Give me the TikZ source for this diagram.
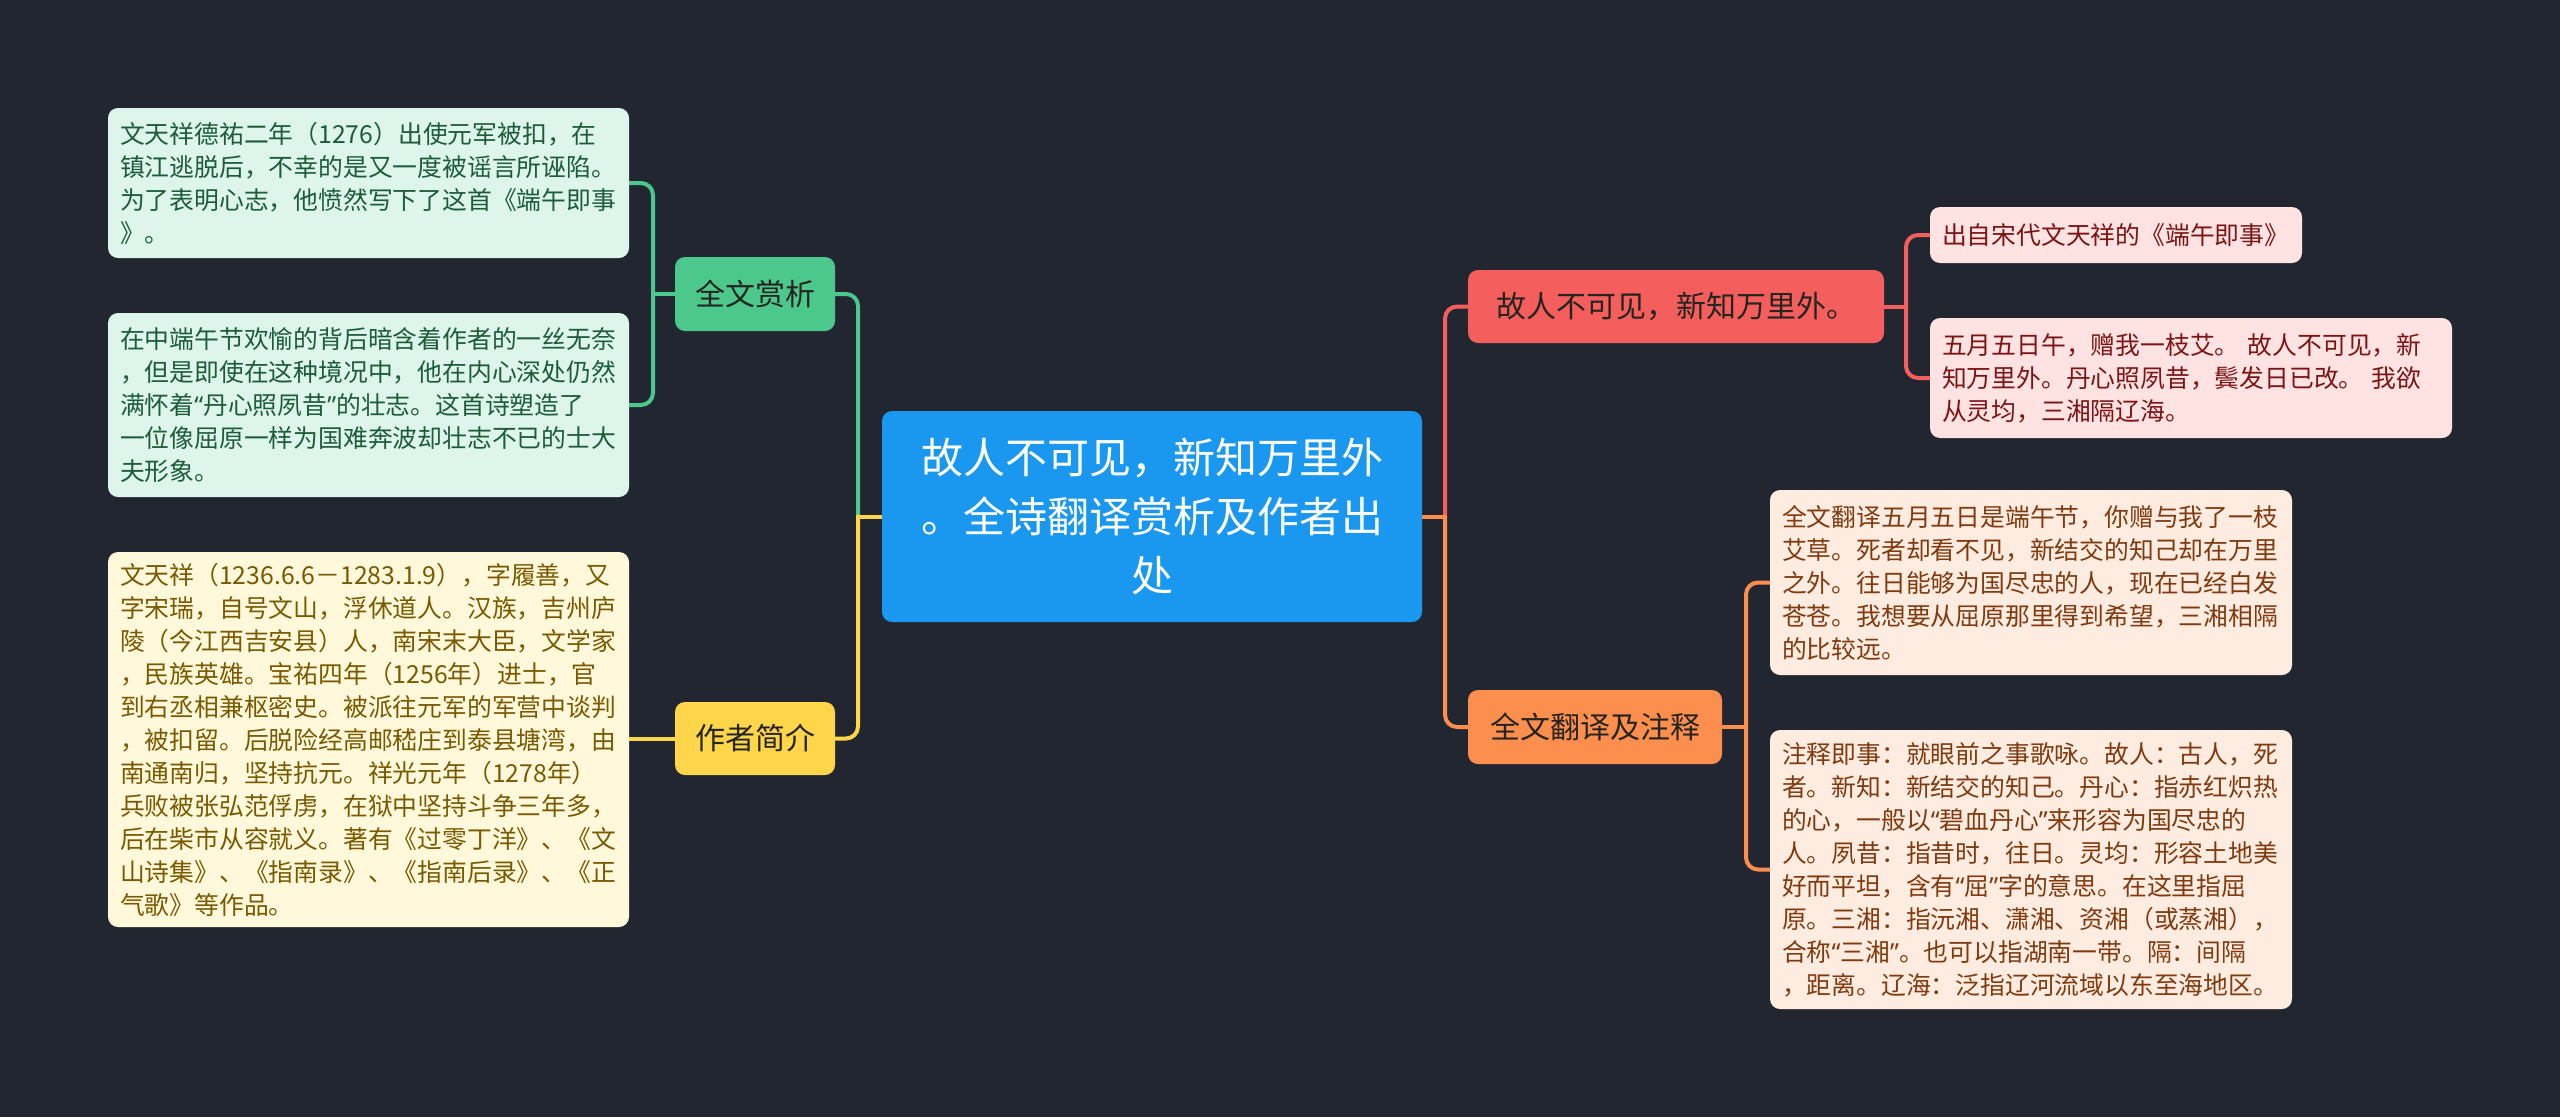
\documentclass[tikz,border=0pt]{standalone}
\usepackage{fontspec}
\setmainfont{Noto Sans CJK SC}
\newfontfamily\quotefont{Noto Sans}
\newcommand{\qo}{{\quotefont “}}
\newcommand{\qc}{{\quotefont ”}}
\usetikzlibrary{backgrounds}
\definecolor{bgc}{HTML}{222630}
\definecolor{cblue}{HTML}{1A97EE}
\definecolor{cgreen}{HTML}{4CC88C}
\definecolor{cyellow}{HTML}{FFD64A}
\definecolor{cred}{HTML}{F45F5E}
\definecolor{corange}{HTML}{FC8F4E}
\definecolor{lgreen}{HTML}{DDF5EA}
\definecolor{tgreen}{HTML}{1C5C3A}
\definecolor{lyellow}{HTML}{FFF8DA}
\definecolor{tyellow}{HTML}{7A5A00}
\definecolor{lred}{HTML}{FFE2E2}
\definecolor{tred}{HTML}{7D1414}
\definecolor{lorange}{HTML}{FFECE1}
\definecolor{torange}{HTML}{803A0E}
\definecolor{tdark}{HTML}{25241F}
\tikzset{
  box/.style={rounded corners=10pt, inner ysep=0pt, inner xsep=12pt, align=left},
  leaf/.style={box, font=\fontsize{24.8}{33}\selectfont},
  topic/.style={box, align=center, inner xsep=0pt, font=\fontsize{30}{40}\selectfont, text=tdark},
  conn/.style={line width=4pt, line cap=round, rounded corners=12pt},
}
\begin{document}
\begin{tikzpicture}[x=1pt, y=-1pt]
\useasboundingbox (0,0) rectangle (2560,1117);
% central topic
\node[box, fill=cblue, text=white, align=center, inner xsep=20pt, text width=500pt, minimum height=211pt,
  font=\fontsize{42}{59}\selectfont] (c) at (1152,516.5)
  {故人不可见，新知万里外\\。全诗翻译赏析及作者出\\处};
% main branches
\node[topic, fill=cgreen, minimum width=160pt, minimum height=74pt] (qw) at (755,294) {全文赏析};
\node[topic, fill=cyellow, minimum width=160pt, minimum height=73pt] (zz) at (755,738.5) {作者简介};
\node[topic, fill=cred, minimum width=416pt, minimum height=73pt] (gr) at (1676,306.5) {故人不可见，新知万里外。};
\node[topic, fill=corange, minimum width=254pt, minimum height=74pt] (fy) at (1595,727) {全文翻译及注释};
% leaves: green
\node[leaf, fill=lgreen, text=tgreen, text width=497pt, minimum height=150pt] (a1) at (368.5,183)
  {文天祥德祐二年（1276）出使元军被扣，在\\镇江逃脱后，不幸的是又一度被谣言所诬陷。\\为了表明心志，他愤然写下了这首《端午即事\\》。};
\node[leaf, fill=lgreen, text=tgreen, text width=497pt, minimum height=184pt] (a2) at (368.5,405)
  {在中端午节欢愉的背后暗含着作者的一丝无奈\\，但是即使在这种境况中，他在内心深处仍然\\满怀着\qo 丹心照夙昔\qc 的壮志。这首诗塑造了\\一位像屈原一样为国难奔波却壮志不已的士大\\夫形象。};
% leaf: yellow
\node[leaf, fill=lyellow, text=tyellow, text width=497pt, minimum height=375pt] (b) at (368.5,739.5)
  {文天祥（1236.6.6－1283.1.9），字履善，又\\字宋瑞，自号文山，浮休道人。汉族，吉州庐\\陵（今江西吉安县）人，南宋末大臣，文学家\\，民族英雄。宝祐四年（1256年）进士，官\\到右丞相兼枢密史。被派往元军的军营中谈判\\，被扣留。后脱险经高邮嵇庄到泰县塘湾，由\\南通南归，坚持抗元。祥光元年（1278年）\\兵败被张弘范俘虏，在狱中坚持斗争三年多，\\后在柴市从容就义。著有《过零丁洋》、《文\\山诗集》、《指南录》、《指南后录》、《正\\气歌》等作品。};
% leaves: red
\node[leaf, fill=lred, text=tred, text width=348pt, minimum height=56pt] (r1) at (2116,235)
  {出自宋代文天祥的《端午即事》};
\node[leaf, fill=lred, text=tred, text width=498pt, minimum height=120pt] (r2) at (2191,378)
  {五月五日午，赠我一枝艾。 故人不可见，新\\知万里外。丹心照夙昔，鬓发日已改。 我欲\\从灵均，三湘隔辽海。};
% leaves: orange
\node[leaf, fill=lorange, text=torange, text width=498pt, minimum height=185pt] (o1) at (2031,582.5)
  {全文翻译五月五日是端午节，你赠与我了一枝\\艾草。死者却看不见，新结交的知己却在万里\\之外。往日能够为国尽忠的人，现在已经白发\\苍苍。我想要从屈原那里得到希望，三湘相隔\\的比较远。};
\node[leaf, fill=lorange, text=torange, text width=498pt, minimum height=279pt] (o2) at (2031,869.5)
  {注释即事：就眼前之事歌咏。故人：古人，死\\者。新知：新结交的知己。丹心：指赤红炽热\\的心，一般以\qo 碧血丹心\qc 来形容为国尽忠的\\人。夙昔：指昔时，往日。灵均：形容土地美\\好而平坦，含有\qo 屈\qc 字的意思。在这里指屈\\原。三湘：指沅湘、潇湘、资湘（或蒸湘），\\合称\qo 三湘\qc 。也可以指湖南一带。隔：间隔\\，距离。辽海：泛指辽河流域以东至海地区。};
% junctions
\coordinate (jL) at (858,516.5);
\coordinate (jQ) at (653,294);
\coordinate (jR) at (1445,516.5);
\coordinate (jG) at (1906,306.5);
\coordinate (jF) at (1746,727);
\begin{pgfonlayer}{background}
\fill[bgc] (0,0) rectangle (2560,1117);
% left side
\draw[conn, cgreen] (c.west) -- (jL);
\draw[conn, cgreen] (jL) |- (qw.east);
\draw[conn, cyellow] (c.west) -- (jL);
\draw[conn, cyellow] (jL) |- (zz.east);
\draw[conn, cgreen] (qw.west) -- (jQ);
\draw[conn, cgreen] (jQ) |- (a1.east);
\draw[conn, cgreen] (jQ) |- (a2.east);
\draw[conn, cyellow] (zz.west) -- (zz.west -| b.east);
% right side
\draw[conn, cred] (c.east) -- (jR);
\draw[conn, cred] (jR) |- (gr.west);
\draw[conn, corange] (c.east) -- (jR);
\draw[conn, corange] (jR) |- (fy.west);
\draw[conn, cred] (gr.east) -- (jG);
\draw[conn, cred] (jG) |- (r1.west);
\draw[conn, cred] (jG) |- (r2.west);
\draw[conn, corange] (fy.east) -- (jF);
\draw[conn, corange] (jF) |- (o1.west);
\draw[conn, corange] (jF) |- (o2.west);
\end{pgfonlayer}
\end{tikzpicture}
\end{document}
